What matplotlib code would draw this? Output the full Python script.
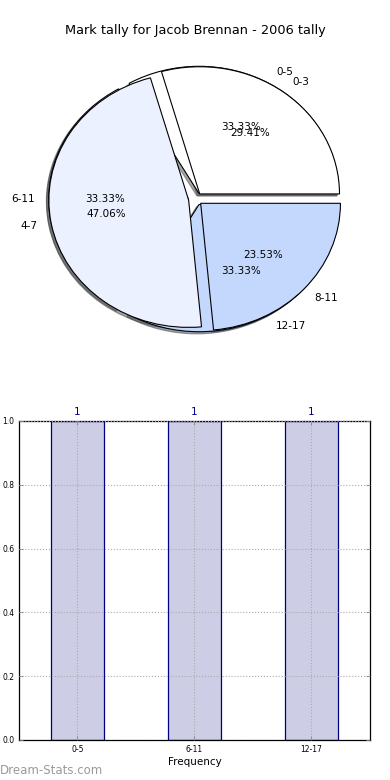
import matplotlib
matplotlib.use("Agg")
import matplotlib.pyplot as plt

title = "Mark tally for Jacob Brennan - 2006 tally"

pie1_labels = ["0-5", "6-11", "12-17"]
pie1_values = [1, 1, 1]
pie2_labels = ["0-3", "4-7", "8-11"]
pie2_values = [5, 8, 4]

bar_categories = ["0-5", "6-11", "12-17"]
bar_values = [1, 1, 1]
bar_value_labels = ["1", "1", "1"]
y_ticks = [0.0, 0.2, 0.4, 0.6, 0.8, 1.0]

wedge_colors = ["#FFFFFF", "#EBF1FE", "#C4D8FE"]

fig = plt.figure(figsize=(3.9, 7.8), dpi=100)
fig.patch.set_facecolor("white")

# --- pie chart ---
ax1 = fig.add_axes([0.0533, 0.541, 0.896, 0.4077])
for vals, labs in ((pie1_values, pie1_labels), (pie2_values, pie2_labels)):
    wedges, texts, autotexts = ax1.pie(
        vals, labels=labs, colors=wedge_colors, explode=[0.05] * len(vals),
        autopct="%.2f%%", shadow=dict(ox=-0.012, oy=-0.012), startangle=0,
        labeldistance=1.1, pctdistance=0.6,
        wedgeprops=dict(edgecolor="black", linewidth=0.8),
        textprops=dict(fontsize=7.5, color="black"))
ax1.set_aspect("auto")
ax1.set_xlim(-1.25, 1.25)
ax1.set_ylim(-1.25, 1.25)
ax1.set_title(title, fontsize=9.3, pad=4)

# --- bar chart ---
ax2 = fig.add_axes([0.0487, 0.0513, 0.9, 0.409])
x = list(range(len(bar_categories)))
bars = ax2.bar(x, bar_values, width=0.45, color="#CDCDE5", edgecolor="#000080",
               linewidth=0.9, zorder=1)
ax2.set_xlim(-0.5, len(bar_categories) - 0.5)
ax2.set_ylim(0, 1.0)
ax2.set_yticks(y_ticks)
ax2.set_yticklabels([f"{v:.1f}" for v in y_ticks])
ax2.set_xticks(x)
ax2.set_xticklabels(bar_categories)
ax2.tick_params(axis="both", labelsize=5.5, direction="in", length=3,
                top=True, right=True, width=0.6, color="#888888")
ax2.grid(True, linestyle=":", color="#AAAAAA", linewidth=0.8, zorder=2)
ax2.set_axisbelow(False)
for xi, v, lab in zip(x, bar_values, bar_value_labels):
    ax2.text(xi, v + 0.012, lab, ha="center", va="bottom", fontsize=7.5,
             color="#000080")
ax2.set_xlabel("Frequency", fontsize=7.5, labelpad=2)
for sp in ax2.spines.values():
    sp.set_linewidth(0.9)

fig.text(0.0, 0.0128, "Dream-Stats.com", fontsize=8.5, color="#9A9A9A",
         ha="left", va="center")

fig.savefig("out.png", dpi=100, facecolor="white")
